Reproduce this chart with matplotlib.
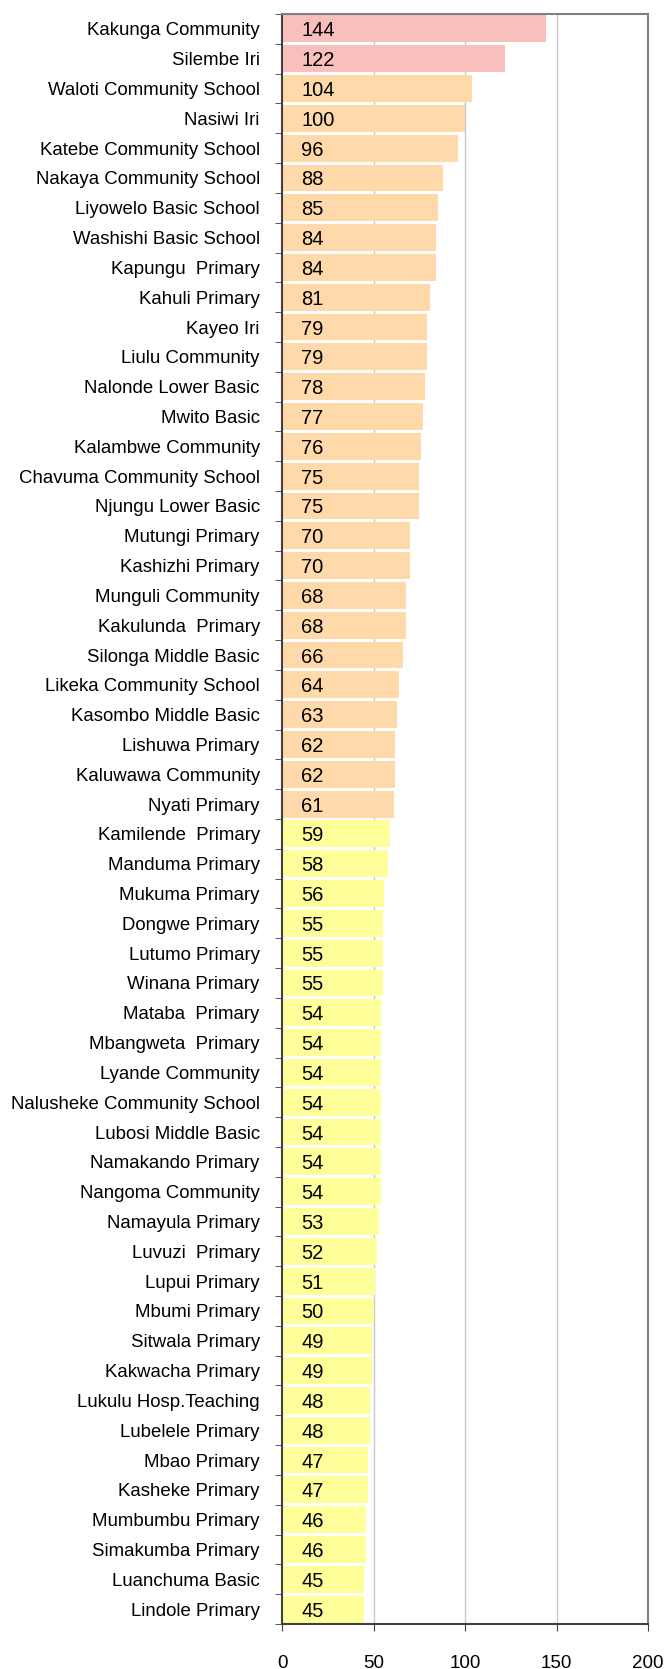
import numpy as np
import matplotlib.pyplot as plt

plt.rcParams['font.family'] = ['Liberation Sans', 'DejaVu Sans']

schools = [
    "Kakunga Community", "Silembe Iri", "Waloti Community School", "Nasiwi Iri",
    "Katebe Community School", "Nakaya Community School", "Liyowelo Basic School",
    "Washishi Basic School", "Kapungu  Primary", "Kahuli Primary", "Kayeo Iri",
    "Liulu Community", "Nalonde Lower Basic", "Mwito Basic", "Kalambwe Community",
    "Chavuma Community School", "Njungu Lower Basic", "Mutungi Primary",
    "Kashizhi Primary", "Munguli Community", "Kakulunda  Primary",
    "Silonga Middle Basic", "Likeka Community School", "Kasombo Middle Basic",
    "Lishuwa Primary", "Kaluwawa Community", "Nyati Primary", "Kamilende  Primary",
    "Manduma Primary", "Mukuma Primary", "Dongwe Primary", "Lutumo Primary",
    "Winana Primary", "Mataba  Primary", "Mbangweta  Primary", "Lyande Community",
    "Nalusheke Community School", "Lubosi Middle Basic", "Namakando Primary",
    "Nangoma Community", "Namayula Primary", "Luvuzi  Primary", "Lupui Primary",
    "Mbumi Primary", "Sitwala Primary", "Kakwacha Primary", "Lukulu Hosp.Teaching",
    "Lubelele Primary", "Mbao Primary", "Kasheke Primary", "Mumbumbu Primary",
    "Simakumba Primary", "Luanchuma Basic", "Lindole Primary",
]
values = [
    144, 122, 104, 100, 96, 88, 85, 84, 84, 81, 79, 79, 78, 77, 76, 75, 75, 70,
    70, 68, 68, 66, 64, 63, 62, 62, 61, 59, 58, 56, 55, 55, 55, 54, 54, 54, 54,
    54, 54, 54, 53, 52, 51, 50, 49, 49, 48, 48, 47, 47, 46, 46, 45, 45,
]
x_ticks = [0, 50, 100, 150, 200]


def bar_color(v):
    if v >= 120:
        return '#F9BFBC'
    if v >= 60:
        return '#FFD9AA'
    return '#FFFF99'


fig = plt.figure(figsize=(6.68, 16.69), dpi=100)
ax = fig.add_axes([282 / 668, 1 - 1624 / 1669, 366 / 668, 1610 / 1669])

y = np.arange(len(values))
colors = [bar_color(v) for v in values]
ax.barh(y, values, height=0.9, color=colors, zorder=2)

for yi, v in zip(y, values):
    ax.text(10.5, yi, str(v), va='center_baseline', ha='left', fontsize=14.5, zorder=3)

ax.set_xlim(0, 200)
ax.set_ylim(len(values) - 0.5, -0.5)
ax.set_xticks(x_ticks)
ax.set_xticklabels([str(t) for t in x_ticks], fontsize=13.5)
ax.tick_params(axis='x', length=5, pad=17, color='#404040')

ax.set_yticks(y)
ax.set_yticklabels(schools, fontsize=13.4)
ax.tick_params(axis='y', length=0, pad=16)
ax.set_yticks(np.arange(-0.5, len(values), 1), minor=True)
ax.tick_params(axis='y', which='minor', length=5, color='#404040')

ax.grid(axis='x', color='#C8C8C8', linewidth=1, zorder=1)
ax.set_axisbelow(True)

for side in ['left', 'bottom']:
    ax.spines[side].set_color('#404040')
    ax.spines[side].set_linewidth(1.5)
for side in ['top', 'right']:
    ax.spines[side].set_color('#808080')
    ax.spines[side].set_linewidth(1.5)

plt.savefig('out.png', dpi=100)
